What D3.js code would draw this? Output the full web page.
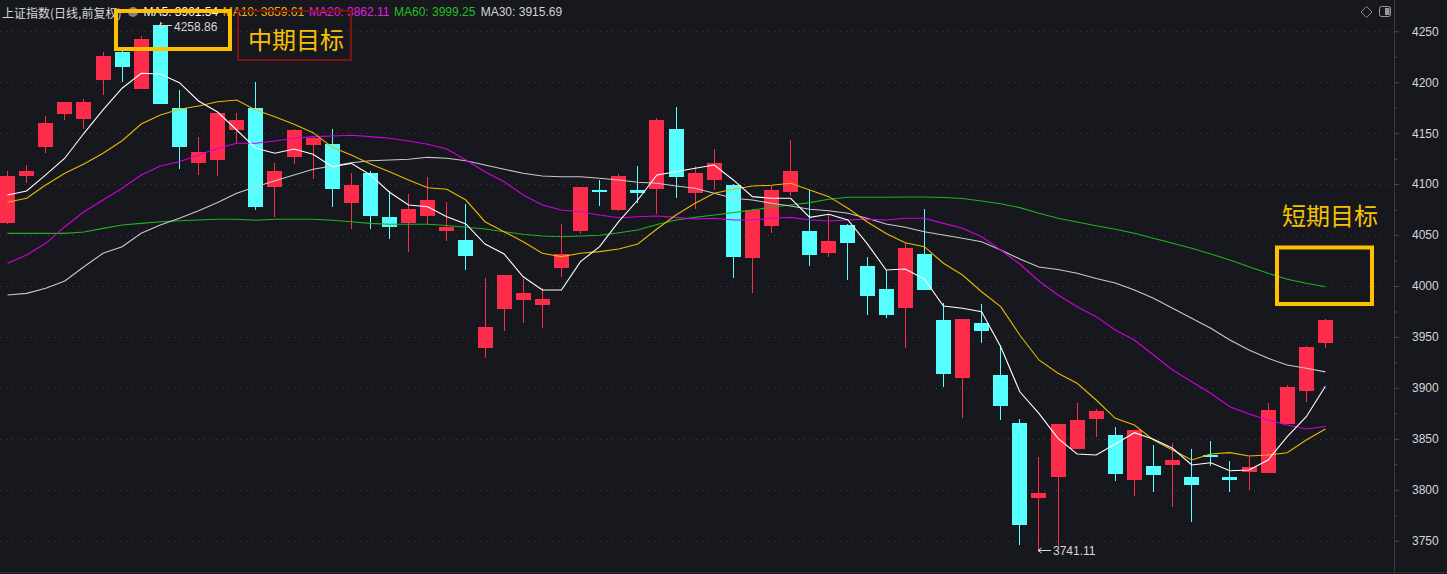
<!DOCTYPE html>
<html><head><meta charset="utf-8">
<script src="https://cdn.jsdelivr.net/npm/d3@7"></script>
<style>html,body{margin:0;padding:0;background:#17171e;overflow:hidden}</style>
</head><body>
<svg id="chart" width="1447" height="574"></svg>
<script>
// ---------------- DATA ----------------
const chartTitle = "上证指数(日线,前复权)";
const opens = [4062,4108,4136,4169,4164,4202,4230,4193,4256,4175,
 4121,4124,4153,4175,4097,4127,4138,4139,4081,4111,
 4068,4062,4069,4054,4045,3939,3977,3986,3981,4018,
 4054,4094,4075,4094,4095,4154,4091,4104,4099,4027,
 4059,4092,4054,4032,4060,4020,3997,3978,4031,3967,
 3910,3964,3913,3866,3792,3813,3840,3869,3854,3810,
 3823,3824,3813,3834,3813,3817,3816,3865,3897,3944];
const highs = [4113,4119,4167,4181,4184,4230,4232,4245,4258.86,4192,
 4146,4170,4170,4200,4121,4154,4147,4154,4111,4113,
 4093,4090,4107,4082,4080,4008,4011,4007,3998,4061,
 4097,4104,4110,4118,4165,4176,4118,4134,4100,4076,
 4099,4143,4094,4071,4061,4028,4016,4042,4076,3983,
 3968,3982,3942,3869,3832,3865,3885,3879,3862,3859,
 3844,3846,3840,3848,3828,3832,3885,3903,3941,3968];
const lows = [4061,4101,4131,4163,4154,4187,4200,4193,4179,4115,
 4109,4108,4140,4075,4068,4120,4105,4078,4056,4056,
 4046,4033,4061,4044,4016,3929,3956,3964,3959,4009,
 4051,4079,4074,4081,4071,4086,4076,4094,4008,3993,
 4052,4088,4020,4028,4006,3972,3969,3939,3996,3901,
 3870,3944,3868,3746,3741.11,3744,3840,3852,3809,3794,
 3798,3783,3768,3823,3798,3800,3816,3865,3886,3939];
const closes = [4108,4113,4160,4181,4181,4226,4215,4242,4179,4136,
 4132,4170,4163,4078,4113,4153,4145,4095,4099,4069,
 4058,4076,4084,4058,4029,3960,4011,3993,3987,4031,
 4097,4093,4108,4091,4163,4107,4111,4121,4028,4075,
 4094,4113,4030,4044,4042,3990,3972,4037,3996,3914,
 3968,3956,3882,3765,3797,3865,3868,3877,3815,3859,
 3814,3829,3805,3832,3810,3822,3878,3901,3940,3967];
const ma5 = [4089.3,4093.3,4109.0,4125.4,4149.9,4172.8,4194.1,4208.8,4208.1,4199.6,
 4181.6,4170.8,4153.1,4135.2,4130.3,4134.5,4129.3,4117.1,4120.4,4109.0,
 4092.0,4079.5,4077.8,4068.0,4060.9,4041.2,4031.4,4009.1,3996.1,3996.1,
 4023.9,4038.6,4063.1,4084.4,4109.0,4112.2,4115.5,4118.8,4104.1,4087.7,
 4086.1,4086.1,4067.4,4070.4,4064.8,4041.9,4015.7,4016.7,4006.9,3980.4,
 3978.1,3974.8,3940.4,3896.2,3875.0,3850.5,3835.1,3834.1,3844.9,3856.0,
 3849.5,3840.7,3824.3,3826.5,3818.7,3819.4,3829.2,3852.1,3871.7,3901.54];
const ma10 = [4082.2,4086.1,4099.1,4110.6,4119.8,4130.3,4142.6,4159.0,4167.9,4173.5,
 4176.7,4180.9,4182.6,4172.8,4166.2,4158.7,4150.5,4136.2,4128.6,4119.8,
 4112.2,4104.1,4096.5,4094.9,4084.4,4063.1,4053.3,4043.5,4032.1,4028.8,
 4032.1,4033.7,4036.3,4041.2,4056.0,4069.7,4081.2,4091.0,4094.9,4098.2,
 4098.9,4100.8,4094.2,4087.7,4076.3,4063.1,4051.5,4042.5,4038.6,4022.3,
 4010.8,3994.4,3979.7,3951.9,3927.4,3914.3,3904.5,3888.1,3870.1,3863.6,
 3848.8,3839.0,3829.2,3835.1,3836.4,3833.1,3834.1,3836.4,3848.8,3859.61];
const ma20 = [4022.3,4030.4,4041.9,4058.2,4072.9,4084.4,4095.9,4109.0,4117.8,4122.0,
 4128.6,4135.0,4140.1,4140.1,4142.3,4145.0,4146.6,4147.2,4147.9,4146.6,
 4145.0,4142.3,4139.1,4134.5,4123.7,4112.2,4102.4,4089.3,4079.5,4074.6,
 4072.9,4069.7,4067.0,4068.0,4068.7,4067.4,4065.8,4066.5,4064.8,4064.8,
 4066.5,4067.4,4064.8,4063.8,4064.8,4065.5,4064.8,4066.5,4066.5,4061.5,
 4056.6,4048.4,4035.3,4021.6,4004.9,3991.2,3979.7,3969.9,3956.8,3947.0,
 3932.3,3917.5,3906.1,3894.7,3881.5,3874.4,3868.5,3863.6,3859.6,3862.11];
const ma30 = [3991.2,3992.8,3997.7,4004.9,4018.9,4032.1,4038.6,4051.7,4059.9,4066.5,
 4073.9,4082.0,4091.0,4097.5,4103.4,4109.0,4114.6,4117.8,4121.0,4123.0,
 4123.7,4124.4,4126.3,4125.4,4123.0,4118.8,4114.6,4110.6,4108.0,4107.3,
 4107.3,4105.7,4104.1,4101.8,4100.8,4098.2,4095.9,4091.0,4086.1,4084.4,
 4081.2,4078.5,4075.3,4073.9,4071.4,4066.5,4060.9,4057.6,4053.3,4050.1,
 4046.8,4043.5,4035.3,4026.5,4018.7,4016.2,4012.5,4007.4,4002.9,3996.1,
 3987.9,3978.1,3968.3,3958.5,3947.0,3937.2,3929.0,3922.5,3919.2,3915.69];
const ma60 = [4051.7,4051.7,4051.7,4051.7,4053.0,4056.6,4059.9,4061.5,4063.1,4064.1,
 4064.8,4065.5,4065.5,4064.5,4065.5,4065.5,4065.5,4064.5,4063.1,4061.5,
 4060.6,4060.6,4060.6,4059.4,4057.6,4056.0,4053.3,4050.8,4049.1,4048.4,
 4049.1,4049.8,4052.3,4055.0,4060.4,4064.8,4067.4,4069.7,4072.0,4074.6,
 4077.3,4079.5,4081.8,4085.1,4087.1,4087.1,4087.1,4087.4,4087.4,4086.9,
 4085.9,4083.4,4080.8,4076.9,4071.4,4066.5,4062.8,4059.2,4055.7,4051.7,
 4046.8,4041.9,4037.0,4031.4,4025.5,4018.9,4012.5,4006.6,4002.7,3999.25];
const maNames = ["MA5","MA10","MA20","MA60","MA30"];
const yTicks = [3750,3800,3850,3900,3950,4000,4050,4100,4150,4200,4250];
const yMinorTicks = [3775,3825,3875,3925,3975,4025,4075,4125,4175,4225];
const targetLabels = ["中期目标","短期目标"];

// ---------------- STYLE ----------------
const W = 1447, H = 574;
const maSeries = {MA5: ma5, MA10: ma10, MA20: ma20, MA60: ma60, MA30: ma30};
const maColor = {MA5:"#ffffff", MA10:"#e6bb00", MA20:"#d100e0", MA60:"#1fb31f", MA30:"#c9c9c9"};
const legendColor = {MA5:"#ffffff", MA10:"#e8b400", MA20:"#e020e0", MA60:"#22c022", MA30:"#d4d4d4"};
const UP = "#fe2c4b", DOWN = "#55ffff";
const numFont = "'Liberation Sans', Arial, sans-serif";
const cjkFont = "'Noto Sans CJK SC', sans-serif";

const svg = d3.select("#chart");
svg.append("rect").attr("width", W).attr("height", H).attr("fill", "#17171e");

const n = closes.length;
const x = d3.scaleLinear().domain([0, n - 1]).range([7.5, 1325.4]);
const y = d3.scaleLinear().domain([3750, 4250]).range([540.7, 31.3]);

// grid
svg.append("g").selectAll("line").data(yTicks).join("line")
  .attr("x1", 0).attr("x2", 1392)
  .attr("y1", d => Math.round(y(d)) + 0.5).attr("y2", d => Math.round(y(d)) + 0.5)
  .attr("stroke", "#3d3e4c").attr("stroke-dasharray", "1,5");

// candles
const cg = svg.append("g").attr("shape-rendering", "crispEdges");
const idx = d3.range(n);
const cand = cg.selectAll("g").data(idx).join("g")
  .attr("fill", i => closes[i] >= opens[i] ? UP : DOWN);
cand.append("rect")
  .attr("x", i => Math.round(x(i) - 7.5) + 7)
  .attr("width", 1)
  .attr("y", i => Math.round(y(highs[i])))
  .attr("height", i => Math.max(1, Math.round(y(lows[i])) - Math.round(y(highs[i]))));
cand.append("rect")
  .attr("x", i => Math.round(x(i) - 7.5))
  .attr("width", 15)
  .attr("y", i => Math.round(y(Math.max(opens[i], closes[i]))))
  .attr("height", i => Math.max(2, Math.round(y(Math.min(opens[i], closes[i]))) - Math.round(y(Math.max(opens[i], closes[i])))));

// MA lines
const line = d3.line().x((d, i) => x(i)).y(d => y(d));
const lg = svg.append("g");
["MA60","MA30","MA20","MA10","MA5"].forEach(k => {
  lg.append("path").datum(maSeries[k]).attr("d", line)
    .attr("fill", "none").attr("stroke", maColor[k]).attr("stroke-width", 1.1);
});

// axis
svg.append("line").attr("x1", 1394.5).attr("x2", 1394.5).attr("y1", 0).attr("y2", H)
  .attr("stroke", "#353846");
svg.append("line").attr("x1", 0).attr("x2", W).attr("y1", 572.5).attr("y2", 572.5)
  .attr("stroke", "#2e303c");
const ax = svg.append("g").attr("transform", "translate(1394,0)")
  .call(d3.axisRight(y).tickValues(yTicks).tickSize(5).tickPadding(13).tickFormat(d3.format("d")));
ax.select(".domain").remove();
ax.selectAll("line").attr("stroke", "#4a4d5c");
ax.selectAll("text").attr("fill", "#d6d6d6").style("font-family", numFont).style("font-size", "12px");
const axm = svg.append("g").attr("transform", "translate(1394,0)")
  .call(d3.axisRight(y).tickValues(yMinorTicks).tickSize(3).tickFormat(""));
axm.select(".domain").remove();
axm.selectAll("line").attr("stroke", "#4a4d5c");

// legend row
svg.append("text").attr("x", 2).attr("y", 12).attr("dominant-baseline", "central")
  .attr("fill", "#d8d8d8").style("font-family", cjkFont).style("font-size", "12px").text(chartTitle);
svg.append("circle").attr("cx", 133).attr("cy", 12).attr("r", 5).attr("fill", "#808080");
const legendX = [143.5, 222.7, 309, 394, 480.7];
maNames.forEach((k, j) => {
  const s = maSeries[k];
  svg.append("text").attr("x", legendX[j]).attr("y", 12).attr("dominant-baseline", "central")
    .attr("fill", legendColor[k]).style("font-family", numFont).style("font-size", "12px")
    .text(k + ": " + s[s.length - 1].toFixed(2));
});

// high / low markers
function marker(i, v, ay, ty) {
  const x0 = Math.round(x(i)) - 1;
  const g = svg.append("g").attr("stroke", "#d8d8d8").attr("fill", "none");
  g.append("path").attr("d", `M${x0},${ay} L${x0 + 13},${ay} M${x0},${ay} L${x0 + 3.5},${ay - 2.5} M${x0},${ay} L${x0 + 3.5},${ay + 2.5}`);
  svg.append("text").attr("x", x0 + 15).attr("y", ty).attr("dominant-baseline", "central")
    .attr("fill", "#d8d8d8").style("font-family", numFont).style("font-size", "12px")
    .text(v.toFixed(2));
}
const hiI = d3.maxIndex(highs), loI = d3.minIndex(lows);
marker(hiI, highs[hiI], Math.round(y(highs[hiI])) + 3.5, Math.round(y(highs[hiI])) + 5);
marker(loI, lows[loI], Math.round(y(lows[loI])) + 0.5, Math.round(y(lows[loI])) + 1);

// annotation boxes & labels
svg.append("rect").attr("x", 238).attr("y", 11).attr("width", 113).attr("height", 49)
  .attr("fill", "none").attr("stroke", "#7e1212").attr("stroke-width", 2);
svg.append("rect").attr("x", 116).attr("y", 11).attr("width", 114).attr("height", 38)
  .attr("fill", "none").attr("stroke", "#ffc000").attr("stroke-width", 4);
svg.append("rect").attr("x", 1277).attr("y", 247.5).attr("width", 95).attr("height", 56.5)
  .attr("fill", "none").attr("stroke", "#ffc000").attr("stroke-width", 4);
svg.append("text").attr("x", 248).attr("y", 38.5).attr("dominant-baseline", "central")
  .attr("fill", "#f7c100").style("font-family", cjkFont).style("font-size", "24px").text(targetLabels[0]);
svg.append("text").attr("x", 1282).attr("y", 214.5).attr("dominant-baseline", "central")
  .attr("fill", "#f7c100").style("font-family", cjkFont).style("font-size", "24px").text(targetLabels[1]);

// top-right icons
svg.append("path").attr("d", "M1366.5,6.5 L1372,12 L1366.5,17.5 L1361,12 Z")
  .attr("fill", "none").attr("stroke", "#8a8a8a");
svg.append("rect").attr("x", 1379.5).attr("y", 6.5).attr("width", 11).attr("height", 10).attr("rx", 2)
  .attr("fill", "none").attr("stroke", "#9a9a9a");
svg.append("rect").attr("x", 1385).attr("y", 8).attr("width", 4.5).attr("height", 7).attr("fill", "#9a9a9a");
</script>
</body></html>
